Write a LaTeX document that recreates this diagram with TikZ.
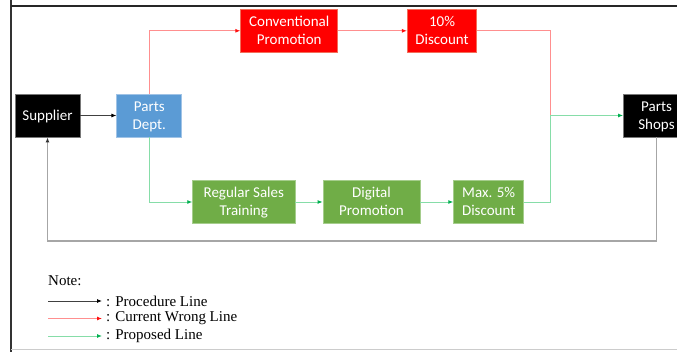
\documentclass[tikz,border=0pt]{standalone}
\usepackage{fontspec}
\setmainfont{Liberation Serif}
\newfontfamily\boxfont{Carlito}
\usetikzlibrary{arrows.meta}
\newcommand\bxs{\rule[-3pt]{0pt}{16pt}}
\definecolor{boxred}{HTML}{FF0000}
\definecolor{boxblue}{HTML}{5B9BD5}
\definecolor{boxgreen}{HTML}{70AD47}
\definecolor{wronglc}{HTML}{FF8F8F}
\definecolor{wrongtip}{HTML}{FF1010}
\definecolor{proplc}{HTML}{86DDA8}
\definecolor{proptip}{HTML}{00B050}
\definecolor{looplc}{HTML}{A6A6A6}
\tikzset{
  box/.style={inner sep=0pt, text=white, align=center, font=\boxfont\fontsize{15}{18}\selectfont, line width=0.8pt},
  redbox/.style={box, fill=boxred, draw={rgb,255:red,242;green,110;blue,90}},
  bluebox/.style={box, fill=boxblue, draw={rgb,255:red,160;green,195;blue,230}},
  greenbox/.style={box, fill=boxgreen, draw={rgb,255:red,165;green,205;blue,140}},
  blackbox/.style={box, fill=black, draw={rgb,255:red,120;green,120;blue,120}},
  procline/.style={draw=black!75, line width=0.8pt, -{Latex[length=5pt,width=4pt,color=black]}},
  wrongline/.style={draw=wronglc, line width=0.9pt, -{Latex[length=5pt,width=4pt,color=wrongtip]}},
  wrongplain/.style={draw=wronglc, line width=0.9pt},
  propline/.style={draw=proplc, line width=0.9pt, -{Latex[length=5pt,width=4pt,color=proptip]}},
  loopline/.style={draw=looplc, line width=1.2pt, -{Latex[length=5pt,width=4pt,color=black!80]}},
  legtext/.style={inner sep=0pt, font=\fontsize{15}{18}\selectfont, anchor=west},
}
\begin{document}
\begin{tikzpicture}[x=1pt,y=-1pt]
\clip (0,0) rectangle (677,352);
\fill[white] (0,0) rectangle (677,352);
% page frame
\draw[black!80, line width=2pt] (11,0) -- (11,352);
\draw[black!85, line width=1.2pt] (11,6) -- (677,6);
\draw[black!20, line width=1pt] (11,349.5) -- (677,349.5);
% boxes
\node[blackbox, minimum width=65pt, minimum height=43pt] (sup) at (47.5,115.5) {Supplier\bxs};
\node[bluebox, minimum width=65pt, minimum height=43pt] (pd) at (149.3,115.5) {Parts\bxs\\Dept.\bxs};
\node[redbox, minimum width=97pt, minimum height=43pt] (cp) at (289.2,30.8) {Conventional\bxs\\Promotion\bxs};
\node[redbox, minimum width=69.4pt, minimum height=43pt] (td) at (442,30.8) {10\%\bxs\\Discount\bxs};
\node[blackbox, minimum width=66pt, minimum height=43pt] (ps) at (656.5,115.5) {Parts\bxs\\Shops\bxs};
\node[greenbox, minimum width=102.3pt, minimum height=42.6pt] (rst) at (243.8,202) {Regular Sales\bxs\\Training\bxs};
\node[greenbox, minimum width=97pt, minimum height=42.6pt] (dp) at (371.5,202) {Digital\bxs\\Promotion\bxs};
\node[greenbox, minimum width=70pt, minimum height=42.6pt] (m5) at (488.7,202) {Max. 5\%\bxs\\Discount\bxs};
% junction coordinates
\coordinate (j) at (550,115.5);
\coordinate (ll) at (47.5,241);
% connectors
\draw[procline] (sup) -- (pd);
\draw[wrongline] (pd.north) |- (cp.west);
\draw[wrongline] (cp) -- (td);
\draw[wrongplain] (td.east) -| (j);
\draw[propline] (pd.south) |- (rst.west);
\draw[propline] (rst) -- (dp);
\draw[propline] (dp) -- (m5);
\draw[propline] (m5.east) -| (j) -- (ps.west);
\draw[loopline] (ps.south) |- (ll) -- (sup.south);
% legend
\node[legtext, anchor=base west] (note) at (48,286) {Note:};
\node[legtext] (t1) at (106,301) {: Procedure Line};
\node[legtext] (t2) at (106,318.5) {: Current Wrong Line};
\node[legtext] (t3) at (106,336) {: Proposed Line};
\coordinate (l1) at (48,301);
\coordinate (l2) at (48,318.5);
\coordinate (l3) at (48,336);
\draw[procline] (l1) -- ([xshift=-4pt]t1.west);
\draw[wrongline] (l2) -- ([xshift=-4pt]t2.west);
\draw[propline] (l3) -- ([xshift=-4pt]t3.west);
\end{tikzpicture}
\end{document}
